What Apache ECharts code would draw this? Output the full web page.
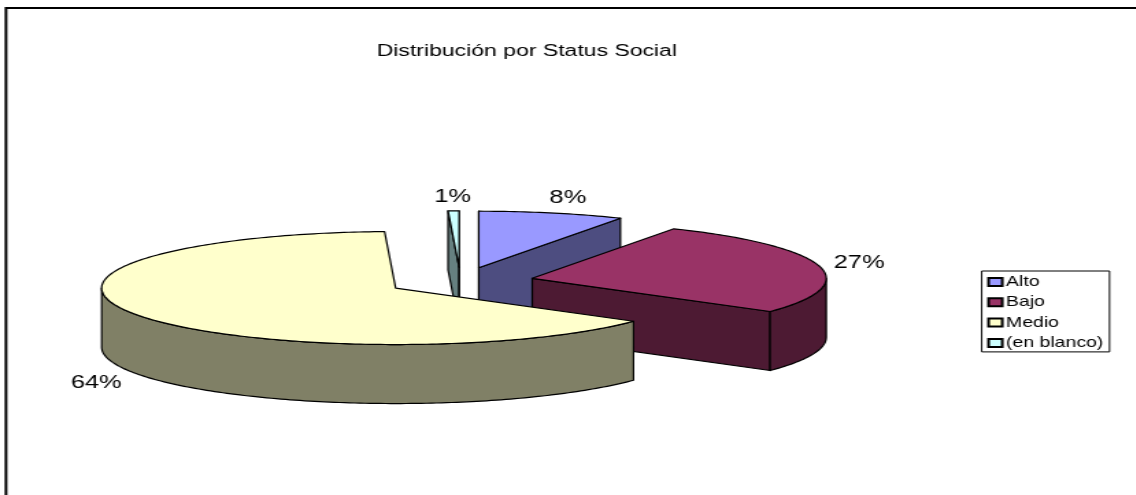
<!DOCTYPE html>
<html>
<head>
<meta charset="utf-8">
<style>
html,body{margin:0;padding:0;background:#fff;overflow:hidden;width:1136px;height:495px}
#c{height:495px;transform-origin:0 0}
</style>
<script src="https://cdn.jsdelivr.net/npm/echarts@6/dist/echarts.min.js"></script>
</head>
<body>
<div id="c"></div>
<script>
// Data
var categories = ['Alto', 'Bajo', 'Medio', '(en blanco)'];
var values = [8, 27, 64.4, 0.6];
var percentLabels = ['8%', '27%', '64%', '1%'];
var topColors = ['#9999FF', '#993366', '#FFFFCC', '#CCFFFF'];
var sideColors = ['#4D4D80', '#4D1A33', '#808066', '#668080'];

// Styling / layout. The reference is a horizontally stretched picture,
// so the whole chart is laid out narrower and stretched the same way.
var STRETCH = 1.37;
var drawOrder = [3, 0, 1, 2];
var labelOffsets = [[16, -15], [40, -3], [-40, 68], [-1, -14]];
var cx = 460.5 / STRETCH, cy = 281.4, rx = 294 / STRETCH, ry = 56.5, depth = 59, explode = 0.25;

var el = document.getElementById('c');
el.style.width = (1136 / STRETCH) + 'px';
el.style.transform = 'scaleX(' + STRETCH + ')';
var chart = echarts.init(el);

var total = values.reduce(function (a, b) { return a + b; }, 0);
function startOf(i) {
  var s = 0;
  for (var k = 0; k < i; k++) s += values[k];
  return s / total * 360;
}
function arcPoints(ox, oy, a, b) {
  var pts = [], n = Math.max(2, Math.ceil(Math.abs(b - a)));
  for (var i = 0; i <= n; i++) {
    var t = (a + (b - a) * i / n) * Math.PI / 180;
    pts.push([ox + rx * Math.sin(t), oy - ry * Math.cos(t)]);
  }
  return pts;
}
function renderSlice(i) {
  return function () {
    var a0 = startOf(i), a1 = a0 + values[i] / total * 360;
    var mid = (a0 + a1) / 2 * Math.PI / 180;
    var ox = cx + explode * rx * Math.sin(mid), oy = cy - explode * ry * Math.cos(mid);
    var stroke = { stroke: '#000', lineWidth: 1.2, lineJoin: 'round' };
    function poly(points, fill) {
      return { type: 'polygon', shape: { points: points }, style: Object.assign({ fill: fill }, stroke) };
    }
    function face(a) {
      var p = arcPoints(ox, oy, a, a)[0];
      return poly([[ox, oy], p, [p[0], p[1] + depth], [ox, oy + depth]], sideColors[i]);
    }
    var kids = [];
    if (Math.sin(a0 * Math.PI / 180) <= 1e-9) kids.push(face(a0));
    if (Math.sin(a1 * Math.PI / 180) >= -1e-9) kids.push(face(a1));
    var s0 = Math.max(a0, 90), s1 = Math.min(a1, 270);
    if (s1 > s0) {
      var top = arcPoints(ox, oy, s0, s1);
      var bottom = top.map(function (p) { return [p[0], p[1] + depth]; }).reverse();
      kids.push(poly(top.concat(bottom), sideColors[i]));
    }
    kids.push(poly([[ox, oy]].concat(arcPoints(ox, oy, a0, a1)), topColors[i]));
    var edgeX = ox + rx * Math.sin(mid), edgeY = oy - ry * Math.cos(mid);
    kids.push({
      type: 'text',
      style: {
        text: percentLabels[i],
        x: edgeX + labelOffsets[i][0] / STRETCH,
        y: edgeY + labelOffsets[i][1],
        fill: '#000',
        align: 'center',
        verticalAlign: 'middle',
        font: '18.6px "Liberation Sans"'
      }
    });
    return { type: 'group', children: kids };
  };
}

chart.setOption({
  animation: false,
  backgroundColor: '#fff',
  title: {
    text: 'Distribución por Status Social',
    left: 520 / STRETCH,
    top: 38,
    textAlign: 'center',
    textStyle: { fontFamily: 'Liberation Sans', fontSize: 16.8, fontWeight: 'normal', color: '#000' }
  },
  legend: {
    data: categories,
    orient: 'vertical',
    left: 981.7 / STRETCH,
    top: 271,
    selectedMode: false,
    icon: 'rect',
    itemWidth: 10,
    itemHeight: 8,
    itemGap: 6.3,
    padding: [4, 4.5, 2, 4],
    borderColor: '#000',
    borderWidth: 1,
    textStyle: { fontFamily: 'Liberation Sans', fontSize: 14.2, color: '#000', padding: [0, 0, 0, -2.2] }
  },
  graphic: [{
    type: 'rect',
    silent: true,
    shape: { x: 6 / STRETCH, y: 8, width: 1400, height: 800 },
    style: { fill: 'none', stroke: '#000', lineWidth: 2 }
  }],
  series: categories.map(function (name, i) {
    return {
      type: 'custom',
      name: name,
      coordinateSystem: 'none',
      z: 2 + drawOrder.indexOf(i),
      silent: true,
      itemStyle: { color: topColors[i], borderColor: '#000', borderWidth: 1 },
      data: [{ name: name, value: values[i] }],
      renderItem: renderSlice(i)
    };
  })
});
</script>
</body>
</html>
